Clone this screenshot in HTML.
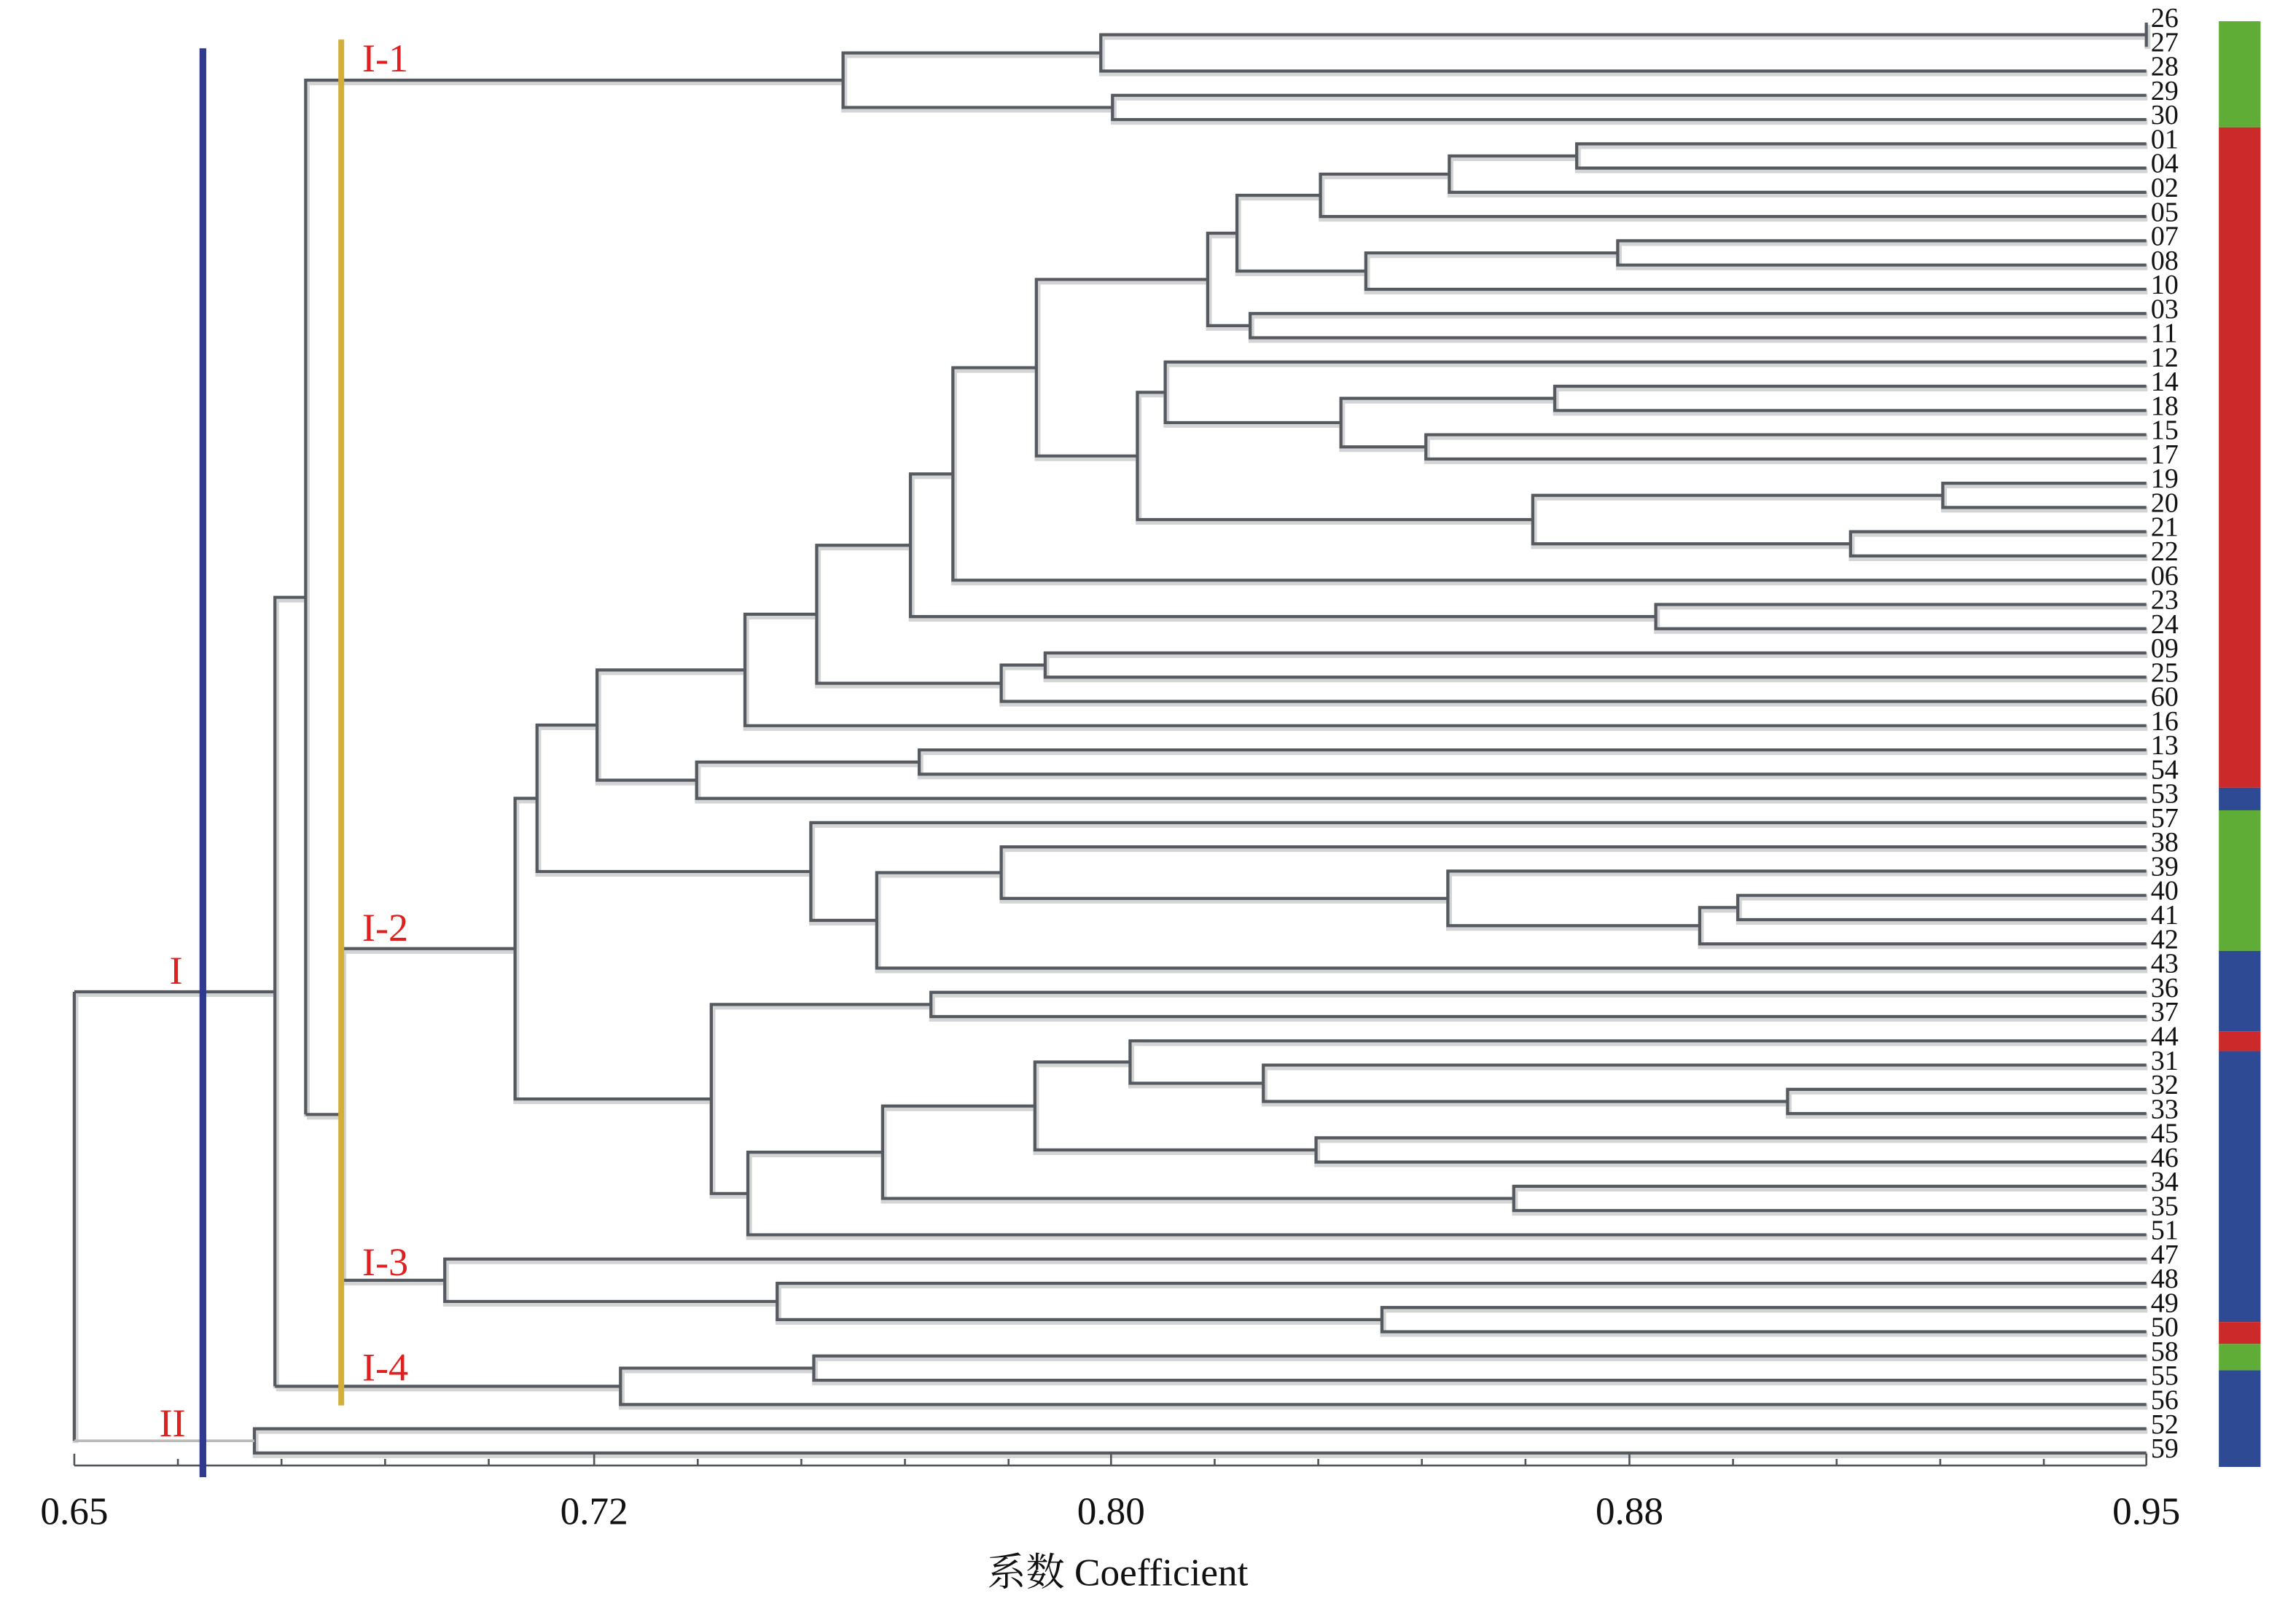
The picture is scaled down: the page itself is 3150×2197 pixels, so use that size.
<!DOCTYPE html>
<html><head><meta charset="utf-8"><style>
html,body{margin:0;padding:0;background:#fff}
svg{display:block}
text{font-family:"Liberation Serif","Noto Serif CJK SC",serif}
</style></head><body>
<svg width="3150" height="2197" viewBox="0 0 3150 2197" xmlns="http://www.w3.org/2000/svg">
<g transform="matrix(2.009 0 0 2.009 1.5 0)">
<defs>
<g id="tree" fill="none">
<path d="M1465 15.43V31.99"/>
<path d="M1465 23.71H751V48.55H1465"/>
<path d="M1465 65.11H759V81.67H1465"/>
<path d="M751 36.13H575V73.39H759"/>
<path d="M1465 98.23H1076V114.79H1465"/>
<path d="M1076 106.51H989V131.35H1465"/>
<path d="M989 118.93H901V147.91H1465"/>
<path d="M1465 164.47H1104V181.03H1465"/>
<path d="M1104 172.75H932V197.59H1465"/>
<path d="M901 133.42H844V185.17H932"/>
<path d="M1465 214.15H853V230.71H1465"/>
<path d="M844 159.30H824V222.43H853"/>
<path d="M1465 263.83H1061V280.39H1465"/>
<path d="M1465 296.95H973V313.51H1465"/>
<path d="M1061 272.11H915V305.23H973"/>
<path d="M1465 247.27H795V288.67H915"/>
<path d="M1465 330.07H1326V346.63H1465"/>
<path d="M1465 363.19H1263V379.75H1465"/>
<path d="M1326 338.35H1046V371.47H1263"/>
<path d="M795 267.97H776V354.91H1046"/>
<path d="M824 190.86H707V311.44H776"/>
<path d="M707 251.15H650V396.31H1465"/>
<path d="M1465 412.87H1130V429.43H1465"/>
<path d="M650 323.73H621V421.15H1130"/>
<path d="M1465 445.99H713V462.55H1465"/>
<path d="M713 454.27H683V479.11H1465"/>
<path d="M621 372.44H557V466.69H683"/>
<path d="M557 419.57H508V495.67H1465"/>
<path d="M1465 512.23H627V528.79H1465"/>
<path d="M627 520.51H475V545.35H1465"/>
<path d="M508 457.62H407V532.93H475"/>
<path d="M1465 611.59H1186V628.15H1465"/>
<path d="M1186 619.87H1160V644.71H1465"/>
<path d="M1465 595.03H988V632.29H1160"/>
<path d="M1465 578.47H683V613.66H988"/>
<path d="M683 596.07H598V661.27H1465"/>
<path d="M1465 561.91H553V628.67H598"/>
<path d="M407 495.28H366V595.29H553"/>
<path d="M1465 677.83H635V694.39H1465"/>
<path d="M1465 744.07H1220V760.63H1465"/>
<path d="M1465 727.51H862V752.35H1220"/>
<path d="M1465 710.95H771V739.93H862"/>
<path d="M1465 777.19H898V793.75H1465"/>
<path d="M771 725.44H706V785.47H898"/>
<path d="M1465 810.31H1033V826.87H1465"/>
<path d="M706 755.46H602V818.59H1033"/>
<path d="M602 787.03H510V843.43H1465"/>
<path d="M635 686.11H485V815.23H510"/>
<path d="M366 545.29H351V750.67H485M351 647.98H233"/>
<path d="M1465 893.11H943V909.67H1465"/>
<path d="M1465 876.55H530V901.39H943"/>
<path d="M1465 859.99H303V888.97H530M303 874.48H233"/>
<path d="M233 647.98V874.48M233 761.23H208"/>
<path d="M575 54.76H208V761.23"/>
<path d="M1465 926.23H555V942.79H1465"/>
<path d="M555 934.51H423V959.35H1465M423 946.93H187"/>
<path d="M208 408H187V946.93M187 677.46H50"/>
<path d="M1465 975.91H173V992.47H1465"/>
<path d="M50 677.46V984.19"/>
</g>
</defs>
<use href="#tree" transform="translate(0.8,1.5)" stroke="#d4d4d4" stroke-width="4"/>
<use href="#tree" stroke="#555a61" stroke-width="2.1"/>
<path d="M50 984.19H173" fill="none" stroke="#b9b9b9" stroke-width="1.8"/>
<g stroke="#50555c" fill="none" stroke-width="1.3">
<path d="M50 1001H1465"/>
<path d="M50 993V1001M405 993V1001M758 993V1001M1112 993V1001M1465 993V1001"/>
<path d="M120.75 996.5V1001M191.5 996.5V1001M262.25 996.5V1001M333 996.5V1001M475.75 996.5V1001M546.5 996.5V1001M617.25 996.5V1001M688 996.5V1001M828.75 996.5V1001M899.5 996.5V1001M970.25 996.5V1001M1041 996.5V1001M1182.75 996.5V1001M1253.5 996.5V1001M1324.25 996.5V1001M1395 996.5V1001"/>
</g>
<rect x="1514.5" y="14.5" width="28.5" height="72.5" fill="#5fad36"/>
<rect x="1514.5" y="87" width="28.5" height="451" fill="#cc2a2a"/>
<rect x="1514.5" y="538" width="28.5" height="15.5" fill="#2f4a95"/>
<rect x="1514.5" y="553.5" width="28.5" height="96" fill="#5fad36"/>
<rect x="1514.5" y="649.5" width="28.5" height="55" fill="#2f4a95"/>
<rect x="1514.5" y="704.5" width="28.5" height="13.5" fill="#cc2a2a"/>
<rect x="1514.5" y="718" width="28.5" height="185" fill="#2f4a95"/>
<rect x="1514.5" y="903" width="28.5" height="15" fill="#cc2a2a"/>
<rect x="1514.5" y="918" width="28.5" height="18" fill="#5fad36"/>
<rect x="1514.5" y="936" width="28.5" height="66" fill="#2f4a95"/>
<rect x="135.5" y="33" width="4.6" height="976" fill="#2f3a8c"/>
<rect x="230.3" y="27" width="4" height="933" fill="#d3ae3a"/>
<g fill="#e0201f" font-size="27">
<text x="246.6" y="48.8">I-1</text>
<text x="246.6" y="642.6">I-2</text>
<text x="246.6" y="871">I-3</text>
<text x="246.6" y="943">I-4</text>
<text x="115" y="672">I</text>
<text x="108" y="981">II</text>
</g>
<g font-size="19" fill="#111">
<text x="1468" y="18.5">26</text><text x="1468" y="35">27</text><text x="1468" y="51.6">28</text><text x="1468" y="68.2">29</text><text x="1468" y="84.7">30</text><text x="1468" y="101.3">01</text><text x="1468" y="117.8">04</text><text x="1468" y="134.4">02</text><text x="1468" y="151">05</text><text x="1468" y="167.5">07</text><text x="1468" y="184.1">08</text><text x="1468" y="200.6">10</text><text x="1468" y="217.2">03</text><text x="1468" y="233.8">11</text><text x="1468" y="250.3">12</text><text x="1468" y="266.9">14</text><text x="1468" y="283.4">18</text><text x="1468" y="300">15</text><text x="1468" y="316.6">17</text><text x="1468" y="333.1">19</text><text x="1468" y="349.7">20</text><text x="1468" y="366.2">21</text><text x="1468" y="382.8">22</text><text x="1468" y="399.4">06</text><text x="1468" y="415.9">23</text><text x="1468" y="432.5">24</text><text x="1468" y="449">09</text><text x="1468" y="465.6">25</text><text x="1468" y="482.2">60</text><text x="1468" y="498.7">16</text><text x="1468" y="515.3">13</text><text x="1468" y="531.8">54</text><text x="1468" y="548.4">53</text><text x="1468" y="565">57</text><text x="1468" y="581.5">38</text><text x="1468" y="598.1">39</text><text x="1468" y="614.6">40</text><text x="1468" y="631.2">41</text><text x="1468" y="647.8">42</text><text x="1468" y="664.3">43</text><text x="1468" y="680.9">36</text><text x="1468" y="697.4">37</text><text x="1468" y="714">44</text><text x="1468" y="730.6">31</text><text x="1468" y="747.1">32</text><text x="1468" y="763.7">33</text><text x="1468" y="780.2">45</text><text x="1468" y="796.8">46</text><text x="1468" y="813.4">34</text><text x="1468" y="829.9">35</text><text x="1468" y="846.5">51</text><text x="1468" y="863">47</text><text x="1468" y="879.6">48</text><text x="1468" y="896.2">49</text><text x="1468" y="912.7">50</text><text x="1468" y="929.3">58</text><text x="1468" y="945.8">55</text><text x="1468" y="962.4">56</text><text x="1468" y="979">52</text><text x="1468" y="995.5">59</text>
</g>
<g font-size="26.5" fill="#111" text-anchor="middle">
<text x="50" y="1041">0.65</text>
<text x="405" y="1041">0.72</text>
<text x="758" y="1041">0.80</text>
<text x="1112" y="1041">0.88</text>
<text x="1465" y="1041">0.95</text>
<text x="762.5" y="1083">系数 Coefficient</text>
</g>
</g>
</svg>
</body></html>
